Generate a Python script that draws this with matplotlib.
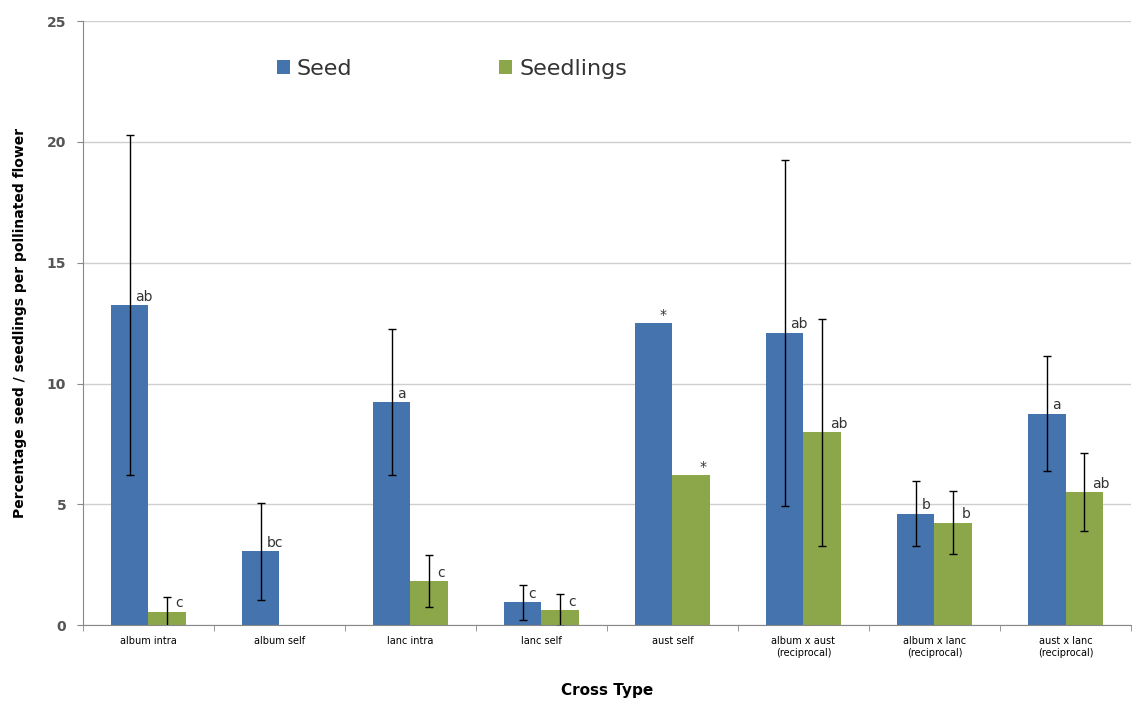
import numpy as np
import matplotlib.pyplot as plt

# data
categories = ["album intra", "album self", "lanc intra", "lanc self", "aust self",
              "album x aust\n(reciprocal)", "album x lanc\n(reciprocal)", "aust x lanc\n(reciprocal)"]
seed = [13.25, 3.05, 9.22, 0.95, 12.5, 12.1, 4.62, 8.75]
seed_err = [7.05, 2.0, 3.02, 0.72, 0.0, 7.15, 1.36, 2.37]
seedlings = [0.55, 0.0, 1.82, 0.63, 6.2, 7.98, 4.24, 5.5]
seedlings_err = [0.62, 0.0, 1.07, 0.66, 0.0, 4.7, 1.3, 1.62]
seed_letters = ["ab", "bc", "a", "c", "*", "ab", "b", "a"]
seedling_letters = ["c", "", "c", "c", "*", "ab", "b", "ab"]

blue = "#4573AD"
green = "#8CA64A"

fig = plt.figure(figsize=(11.35, 7.04), dpi=100)
ax = fig.add_axes([0.073, 0.112, 0.9235, 0.858])

x = np.arange(len(categories))
w = 0.285

ax.bar(x - w / 2, seed, w, color=blue, label="Seed", zorder=2)
ax.bar(x + w / 2, seedlings, w, color=green, label="Seedlings", zorder=2)

# error bars only where there is an error value
for xs, vals, errs in [(x - w / 2, seed, seed_err), (x + w / 2, seedlings, seedlings_err)]:
    keep = [i for i in range(len(errs)) if errs[i] > 0]
    ax.errorbar(xs[keep], np.array(vals)[keep], yerr=np.array(errs)[keep], fmt="none",
                ecolor="black", elinewidth=1, capsize=3, capthick=1, zorder=3)

# significance letters, just right of each bar's centre
for i in range(len(categories)):
    if seed_letters[i]:
        ax.annotate(seed_letters[i], (x[i] - w / 2, seed[i]), xytext=(4, 1),
                    textcoords="offset points", ha="left", va="bottom",
                    fontsize=10, color="#333333")
    if seedling_letters[i]:
        ax.annotate(seedling_letters[i], (x[i] + w / 2, seedlings[i]), xytext=(6, 1),
                    textcoords="offset points", ha="left", va="bottom",
                    fontsize=10, color="#333333")

ax.set_xlim(-0.5, len(categories) - 0.5)
ax.set_ylim(0, 25)
ax.set_yticks([0, 5, 10, 15, 20, 25])
ax.yaxis.grid(True, color="#CFCFCF", linewidth=1, zorder=0)
ax.set_axisbelow(True)

ax.set_xticks(x)
ax.set_xticklabels(categories, fontsize=7)
ax.set_xticks(np.arange(len(categories) + 1) - 0.5, minor=True)
ax.tick_params(axis="x", which="major", length=0, pad=8)
ax.tick_params(axis="x", which="minor", length=4, color="#888888")
ax.tick_params(axis="y", length=4, color="#888888", labelsize=10,
               labelcolor="#555555", pad=8)
for lab in ax.get_yticklabels():
    lab.set_fontweight("bold")

for side in ["top", "right"]:
    ax.spines[side].set_visible(False)
ax.spines["left"].set_color("#888888")
ax.spines["bottom"].set_color("#888888")

ax.set_ylabel("Percentage seed / seedlings per pollinated flower",
              fontsize=10, fontweight="bold", labelpad=14)
ax.set_xlabel("Cross Type", fontsize=11, fontweight="bold", labelpad=18)

ax.legend(loc="upper left", bbox_to_anchor=(0.166, 0.97), ncol=2, frameon=False,
          fontsize=16, handlelength=0.6, handleheight=0.6, handletextpad=0.3,
          columnspacing=6.6, labelcolor="#333333")

fig.savefig("out.png", dpi=100)
